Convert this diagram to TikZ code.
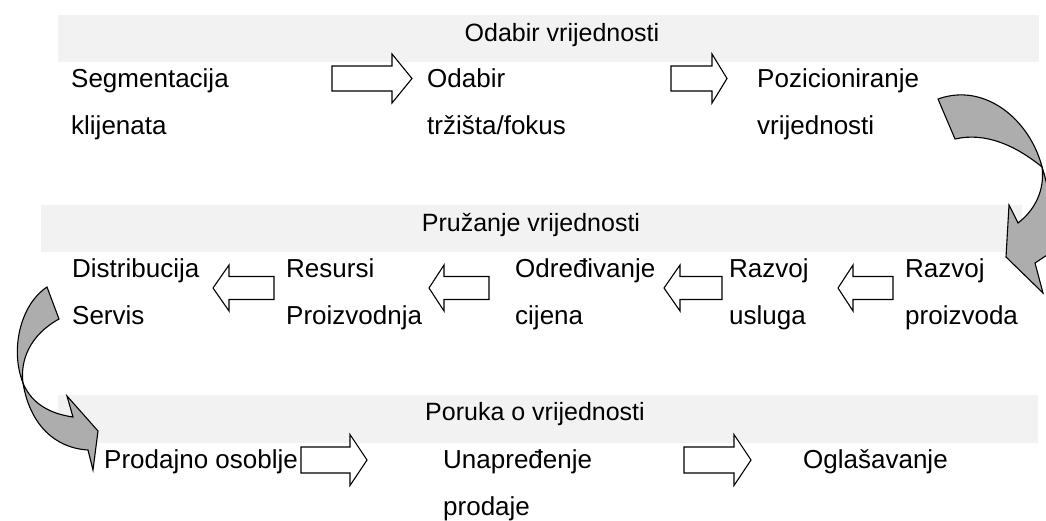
\documentclass[tikz,border=0pt]{standalone}
\usepackage{fontspec}
\setmainfont{Liberation Sans}
\usetikzlibrary{positioning}

\tikzset{
  band/.style={fill=black!5},
  label/.style={anchor=base west, inner sep=0pt, font=\fontsize{26}{31}\selectfont},
  title/.style={anchor=base, inner sep=0pt, font=\fontsize{25}{30}\selectfont},
  blockarrow/.style={draw=black, fill=white, line width=1.1pt, line join=miter},
  bentarrow/.style={draw=black, fill=black!32, line width=1.1pt, line join=miter},
}

% tail x, head base x, tip x, centre y, body half, head half
\newcommand{\blockarr}[6]{%
  \draw[blockarrow] (#1,#4-#5) -- (#2,#4-#5) -- (#2,#4-#6) -- (#3,#4)
    -- (#2,#4+#6) -- (#2,#4+#5) -- (#1,#4+#5) -- cycle;}

\begin{document}
\begin{tikzpicture}[x=1pt, y=-1pt]
  \useasboundingbox (0,0) rectangle (1046,520);

  % Bands
  \fill[band] (58,15) rectangle (1039,62);
  \fill[band] (41,205) rectangle (1022,252);
  \fill[band] (58,395) rectangle (1038,443);

  \node[title] (odabir) at (562,41) {Odabir vrijednosti};
  \node[title] (pruzanje) at (531,231) {Pružanje vrijednosti};
  \node[title] (poruka) at (535,420) {Poruka o vrijednosti};

  % Row 1
  \node[label] (seg) at (71,87) {Segmentacija};
  \node[label] (klij) at (71,134) {klijenata};
  \node[label] (odab) at (427,87) {Odabir};
  \node[label] (trz) at (427,134) {tržišta/fokus};
  \node[label] (poz) at (757,87) {Pozicioniranje};
  \node[label] (vrij) at (757,134) {vrijednosti};

  \blockarr{332}{392}{412}{78.5}{12.5}{24.5}
  \blockarr{671}{712}{727}{78.5}{12.5}{24.5}

  % Row 2
  \node[label] (distr) at (72,277) {Distribucija};
  \node[label] (serv) at (72,324) {Servis};
  \node[label] (res) at (286,277) {Resursi};
  \node[label] (proizv) at (286,324) {Proizvodnja};
  \node[label] (odr) at (515,277) {Određivanje};
  \node[label] (cij) at (515,324) {cijena};
  \node[label] (razu) at (729,277) {Razvoj};
  \node[label] (uslu) at (729,324) {usluga};
  \node[label] (razp) at (905,277) {Razvoj};
  \node[label] (proi) at (905,324) {proizvoda};

  \blockarr{274}{229}{213}{288}{11.5}{23}
  \blockarr{489}{444}{429}{288}{11.5}{23}
  \blockarr{722}{680}{664}{288}{11.5}{23}
  \blockarr{893}{853}{838}{288}{11.5}{23}

  % Row 3
  \node[label] (prod) at (104,468) {Prodajno osoblje};
  \node[label] (unap) at (443,468) {Unapređenje};
  \node[label] (prodj) at (443,515) {prodaje};
  \node[label] (ogl) at (803,468) {Oglašavanje};

  \blockarr{301}{350}{367}{460}{13}{25.5}
  \blockarr{684}{734}{751}{460}{13}{25.5}

  % Curved arrow, right side
  \draw[bentarrow] (938,99) .. controls (985,82) and (1030,120) .. (1042,167)
    .. controls (1015,145) and (985,132) .. (955,139) -- cycle;
  \draw[bentarrow] (1042,167) .. controls (1050,190) and (1052,220) .. (1050,253)
    -- (1035,263) -- (1043,293) -- (1006,257) -- (1009,205) -- (1018,223)
    .. controls (1035,210) and (1045,190) .. (1042,167) -- cycle;

  % Curved arrow, left side
  \draw[bentarrow] (47,287) .. controls (20,305) and (10,350) .. (23,383)
    .. controls (20,360) and (30,335) .. (59,319) -- cycle;
  \draw[bentarrow] (23,383) .. controls (30,400) and (45,413) .. (73,417)
    -- (67,396) -- (98,431) -- (93,470) -- (88,450)
    .. controls (55,448) and (30,425) .. (23,383) -- cycle;
\end{tikzpicture}
\end{document}
